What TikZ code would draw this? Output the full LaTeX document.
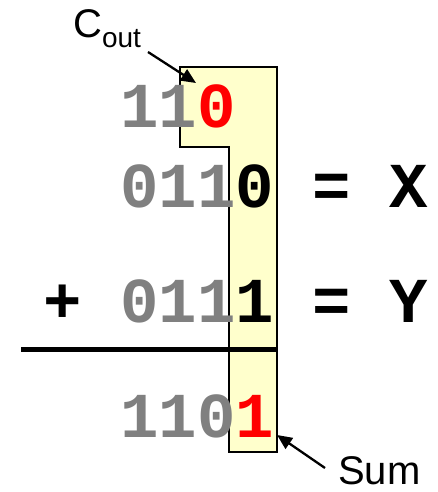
\documentclass[tikz,border=0pt]{standalone}
\usepackage{fontspec}
\setmainfont{Liberation Sans}
\newfontfamily\digitfont{Liberation Mono}[BoldFont={* Bold}]
\usetikzlibrary{arrows.meta}
\definecolor{boxyellow}{HTML}{FFFFCC}
\definecolor{digitgray}{HTML}{808080}
\definecolor{digitred}{HTML}{FF0000}
\tikzset{
  digits/.style={anchor=base west, inner sep=0pt, font=\digitfont\bfseries\fontsize{64}{64}\selectfont},
  lbl/.style={anchor=base west, inner sep=0pt, font=\fontsize{40}{40}\selectfont},
  pointer/.style={line width=2.3pt, -{Triangle[length=15pt,width=13pt]}},
  column/.style={fill=boxyellow, draw=black, line width=1.6pt, line join=miter},
  sumline/.style={line width=5pt}
}
\begin{document}
\begin{tikzpicture}[x=1pt,y=1pt]
\useasboundingbox (0,0) rectangle (438,492);
% highlighted column
\draw[column] (180,425) -- (277,425) -- (277,40) -- (229,40) -- (229,345) -- (180,345) -- cycle;
% sum line
\coordinate (lineL) at (21,142);
\coordinate (lineR) at (277,142);
\draw[sumline] (lineL) -- (lineR);
% rows
\node[digits] (carry) at (120,364) {\textcolor{digitgray}{11}\textcolor{digitred}{0}};
\node[digits] (xrow) at (120,284) {\textcolor{digitgray}{011}0 = X};
\node[digits] (yrow) at (43.2,169) {+ \textcolor{digitgray}{011}1 = Y};
\node[digits] (sumrow) at (120,54) {\textcolor{digitgray}{110}\textcolor{digitred}{1}};
% labels
\node[lbl] (cout) at (73,454) {C\raisebox{-10pt}{\fontsize{28}{28}\selectfont out}};
\node[lbl] (sum) at (338,7) {Sum};
\coordinate (coutTail) at (148,440);
\coordinate (coutTip) at (196,409);
\coordinate (sumTail) at (325,24);
\coordinate (sumTip) at (277,57);
\draw[pointer] (coutTail) -- (coutTip);
\draw[pointer] (sumTail) -- (sumTip);
\end{tikzpicture}
\end{document}
